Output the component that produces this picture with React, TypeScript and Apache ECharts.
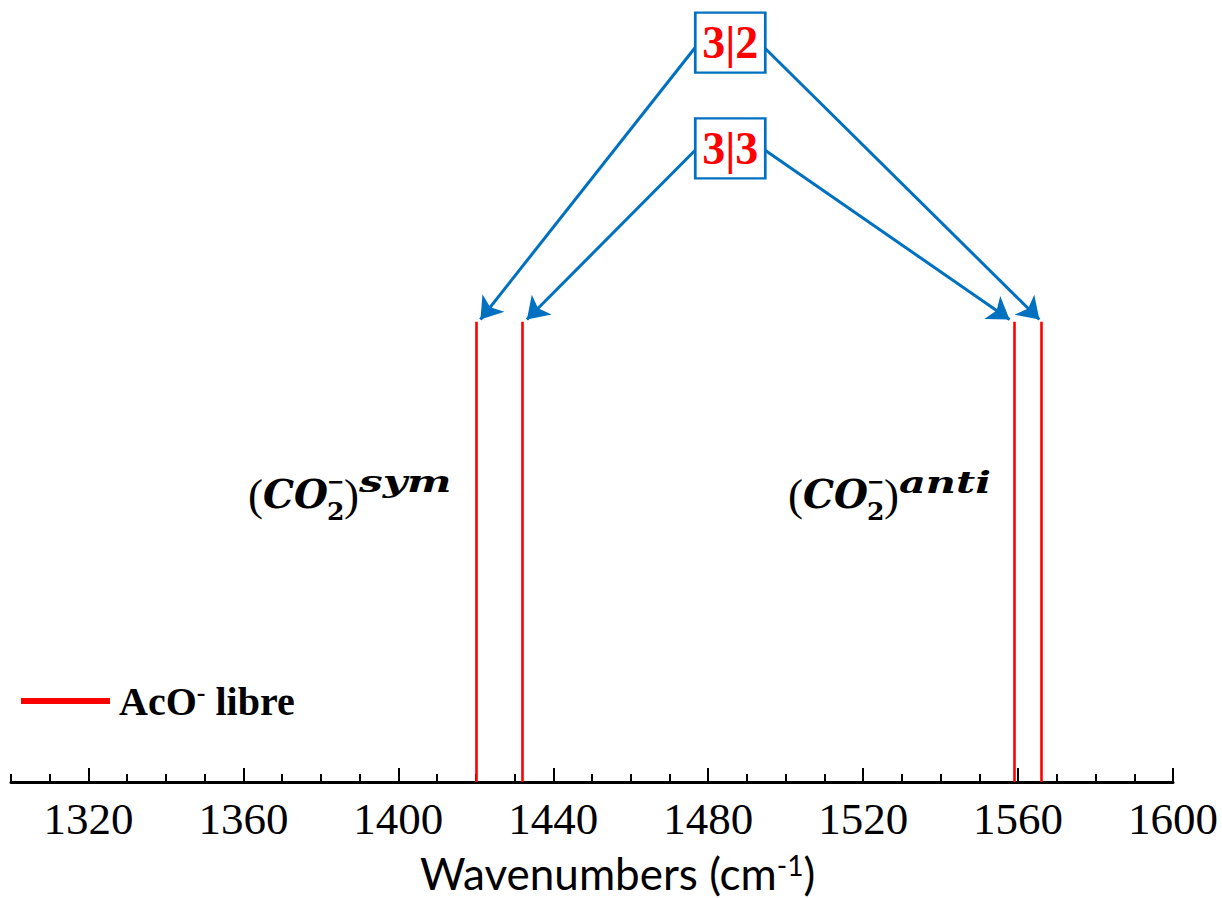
import React, { useEffect, useRef } from 'react';
import * as echarts from 'echarts';

// ---- data ----
const xMin = 1300;
const xMax = 1600;
const majorTicks = [1320, 1360, 1400, 1440, 1480, 1520, 1560, 1600];
const peaks = [1420, 1432, 1559, 1566];
const peakHeight = 60;
const seriesName = 'AcO- libre';
const boxLabels = ['3|2', '3|3'];
const boxCenters = [
  [1485.7, 96.4],
  [1485.7, 82.6],
];
const arrowStarts = [
  [1476.7, 95.8],
  [1494.6, 95.7],
  [1476.7, 82.4],
  [1494.6, 82.4],
];
const arrowEnds = [
  [1421.2, 60.3],
  [1565.5, 60.3],
  [1433.2, 60.3],
  [1557.8, 60.3],
];
const bandLabels = [
  { sup: 'sym', x: 248, scale: 1.45 },
  { sup: 'anti', x: 788, scale: 1.43 },
];
const axisTitle = 'Wavenumbers (cm';

const RED = '#FF0000';
const BLUE = '#0070C0';
const SERIF = 'Liberation Serif';
const MATH = 'DejaVu Serif';

function co2Label(x0: number, sup: string, supScale: number) {
  const y0 = 495;
  const t = (text: string, x: number, y: number, st: any, extra: any = {}) => ({
    type: 'text',
    x: x0 + x,
    y: y0 + y,
    ...extra,
    style: { text, fill: '#000', align: 'left', verticalAlign: 'middle', fontFamily: SERIF, ...st },
  });
  return {
    type: 'group',
    children: [
      t('(', 0, 0, { fontSize: 45 }),
      t('CO', 15, -1, { fontSize: 39, fontWeight: 'bold', fontStyle: 'italic', fontFamily: MATH }),
      t('2', 79, 16, { fontSize: 25, fontWeight: 'bold', fontFamily: MATH }),
      t('\u2212', 79, -14, { fontSize: 21, fontWeight: 'bold', fontFamily: MATH }),
      t(')', 96, 0, { fontSize: 45 }),
      t(sup, 111, -13, { fontSize: 29, fontWeight: 'bold', fontStyle: 'italic', fontFamily: MATH }, { scaleX: supScale }),
    ],
  };
}

export default function App() {
  const ref = useRef<HTMLDivElement>(null);
  useEffect(() => {
    if (!ref.current) return;
    const chart = echarts.init(ref.current, undefined, { renderer: 'svg' });
    const option: any = {
      animation: false,
      backgroundColor: '#fff',
      textStyle: { fontFamily: SERIF },
      grid: { left: 11, right: 49, top: 15, bottom: 116, containLabel: false },
      legend: {
        show: true,
        data: [{ name: seriesName, icon: 'rect', itemStyle: { color: RED } }],
        left: 21,
        top: 679,
        padding: 0,
        itemWidth: 87,
        itemHeight: 4,
        selectedMode: false,
        formatter: () => '{f|AcO}{s|-}{a| libre}',
        textStyle: {
          rich: {
            f: { fontFamily: SERIF, fontWeight: 'bold', fontSize: 40, color: '#000', lineHeight: 44, padding: [0, 0, 0, 5] },
            a: { fontFamily: SERIF, fontWeight: 'bold', fontSize: 40, color: '#000', lineHeight: 44 },
            s: { fontFamily: SERIF, fontWeight: 'bold', fontSize: 26, color: '#000', lineHeight: 26, verticalAlign: 'top' },
          },
        },
      },
      xAxis: [
        {
          type: 'value',
          min: xMin,
          max: xMax,
          position: 'bottom',
          axisLine: { show: true, onZero: false, lineStyle: { color: '#000', width: 3 } },
          axisTick: { show: true, inside: true, length: 14, customValues: majorTicks, lineStyle: { color: '#000', width: 2 } },
          axisLabel: {
            show: true,
            customValues: majorTicks,
            margin: 14,
            formatter: (v: number) => '{t|' + String(v) + '}',
            fontFamily: SERIF,
            fontSize: 45,
            color: '#000',
            rich: {
              t: { fontFamily: SERIF, fontSize: 45, color: '#000' },
            },
          },
          splitLine: { show: false },
        },
        {
          type: 'value',
          min: xMin,
          max: xMax,
          interval: 10,
          position: 'bottom',
          axisLine: { show: false, onZero: false },
          axisTick: { show: true, inside: true, length: 8, lineStyle: { color: '#000', width: 2 } },
          axisLabel: { show: false },
          splitLine: { show: false },
        },
      ],
      yAxis: { type: 'value', min: 0, max: 100, show: false },
      series: [
        {
          type: 'lines',
          name: seriesName,
          coordinateSystem: 'cartesian2d',
          xAxisIndex: 0,
          symbol: 'none',
          silent: true,
          z: 3,
          lineStyle: { color: RED, width: 2.6, opacity: 1, curveness: 0 },
          data: peaks.map((p) => ({ coords: [[p, 0], [p, peakHeight]] })),
        },
        {
          type: 'lines',
          name: 'arrows',
          coordinateSystem: 'cartesian2d',
          xAxisIndex: 0,
          symbol: ['none', 'arrow'],
          symbolSize: 21,
          silent: true,
          z: 4,
          lineStyle: { color: BLUE, width: 3, opacity: 1, curveness: 0 },
          data: arrowStarts.map((s, i) => ({ coords: [s, arrowEnds[i]] })),
        },
        {
          type: 'scatter',
          name: 'boxes',
          xAxisIndex: 0,
          symbol: 'rect',
          symbolSize: [70, 60],
          silent: true,
          z: 5,
          itemStyle: { color: '#fff', borderColor: BLUE, borderWidth: 2.5, opacity: 1 },
          label: {
            show: true,
            position: 'inside',
            formatter: (p: any) => boxLabels[p.dataIndex],
            color: RED,
            fontFamily: SERIF,
            fontWeight: 'bold',
            fontSize: 46,
          },
          data: boxCenters,
        },
      ],
      graphic: [
        ...bandLabels.map((b) => co2Label(b.x, b.sup, b.scale)),
        {
          type: 'text',
          x: 420,
          y: 873,
          style: {
            text: '{n|' + axisTitle + '}{s|-1}{n|)}',
            align: 'left',
            verticalAlign: 'middle',
            rich: {
              n: { fontFamily: 'Lato', fontSize: 44, fill: '#000', lineHeight: 44 },
              s: { fontFamily: 'Lato', fontSize: 28, fill: '#000', lineHeight: 26, verticalAlign: 'top' },
            },
          },
        },
      ],
    };
    chart.setOption(option);
    return () => chart.dispose();
  }, []);
  return <div ref={ref} style={{ position: 'fixed', left: 0, top: 0, width: 1222, height: 898 }} />;
}
